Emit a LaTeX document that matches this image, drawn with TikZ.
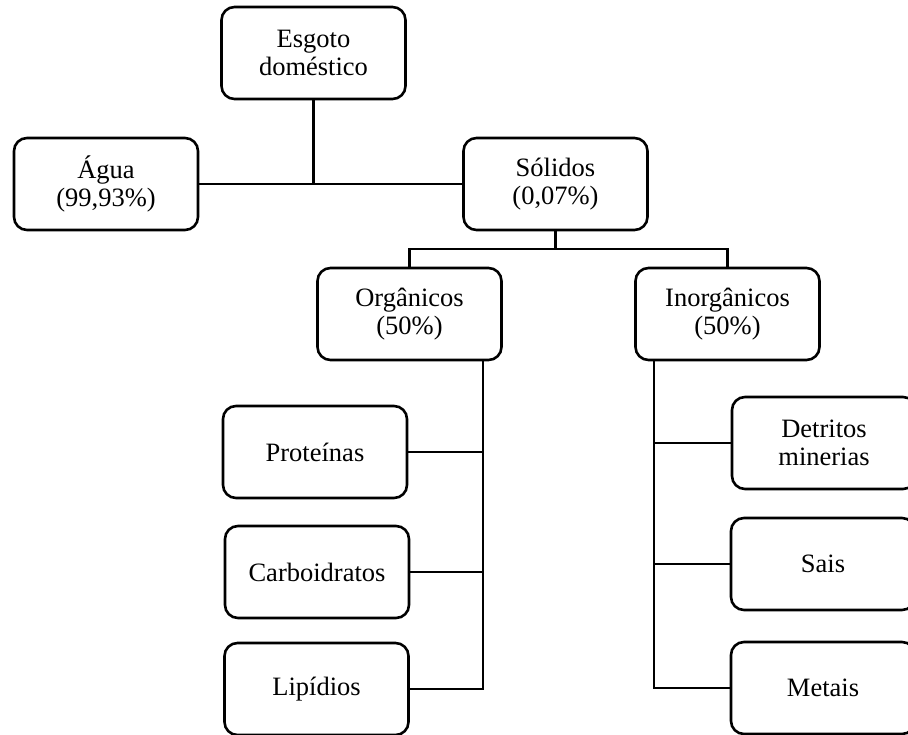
\documentclass[tikz,border=0pt]{standalone}
\usepackage{fontspec}
\setmainfont{Liberation Serif}
\begin{document}
\begin{tikzpicture}[x=1pt,y=-1pt,
  box/.style={draw, line width=2.6pt, rounded corners=13pt, align=center,
    minimum width=184pt, minimum height=92pt, inner sep=0pt,
    font=\fontsize{26.5}{27.5}\selectfont},
  conn/.style={line width=2.2pt}]
\useasboundingbox (0,0) rectangle (908,734);
\clip (0,0) rectangle (908,734);
\node[box] (esg) at (313.5,53) {Esgoto\\dom\'estico};
\node[box] (agua) at (106,184) {\'Agua\\(99,93\%)};
\node[box] (sol) at (555.5,184) {S\'olidos\\(0,07\%)};
\node[box] (org) at (409.5,314) {Org\^anicos\\(50\%)};
\node[box] (inorg) at (727.5,314) {Inorg\^anicos\\(50\%)};
\node[box] (prot) at (315,452) {Prote\'inas};
\node[box] (carb) at (317,572) {Carboidratos};
\node[box] (lip) at (316.5,689) {Lip\'idios};
\node[box] (detr) at (824,443) {Detritos\\minerias};
\node[box] (sais) at (823,564) {Sais};
\node[box] (met) at (823,688) {Metais};
\coordinate (j1) at (555.5,249);
\coordinate (t1) at (483,0);
\coordinate (t2) at (654,0);
\draw[conn] (agua.east) -- (sol.west);
\draw[conn] (esg.south) -- (esg.south |- agua.east);
\draw[conn] (sol.south) -- (j1);
\draw[conn] (org.north) |- (j1) -| (inorg.north);
\draw[conn] (org.south -| t1) -- (lip.east -| t1) -- (lip.east);
\draw[conn] (prot.east) -- (prot.east -| t1);
\draw[conn] (carb.east) -- (carb.east -| t1);
\draw[conn] (inorg.south -| t2) -- (met.west -| t2) -- (met.west);
\draw[conn] (detr.west -| t2) -- (detr.west);
\draw[conn] (sais.west -| t2) -- (sais.west);
\end{tikzpicture}
\end{document}
